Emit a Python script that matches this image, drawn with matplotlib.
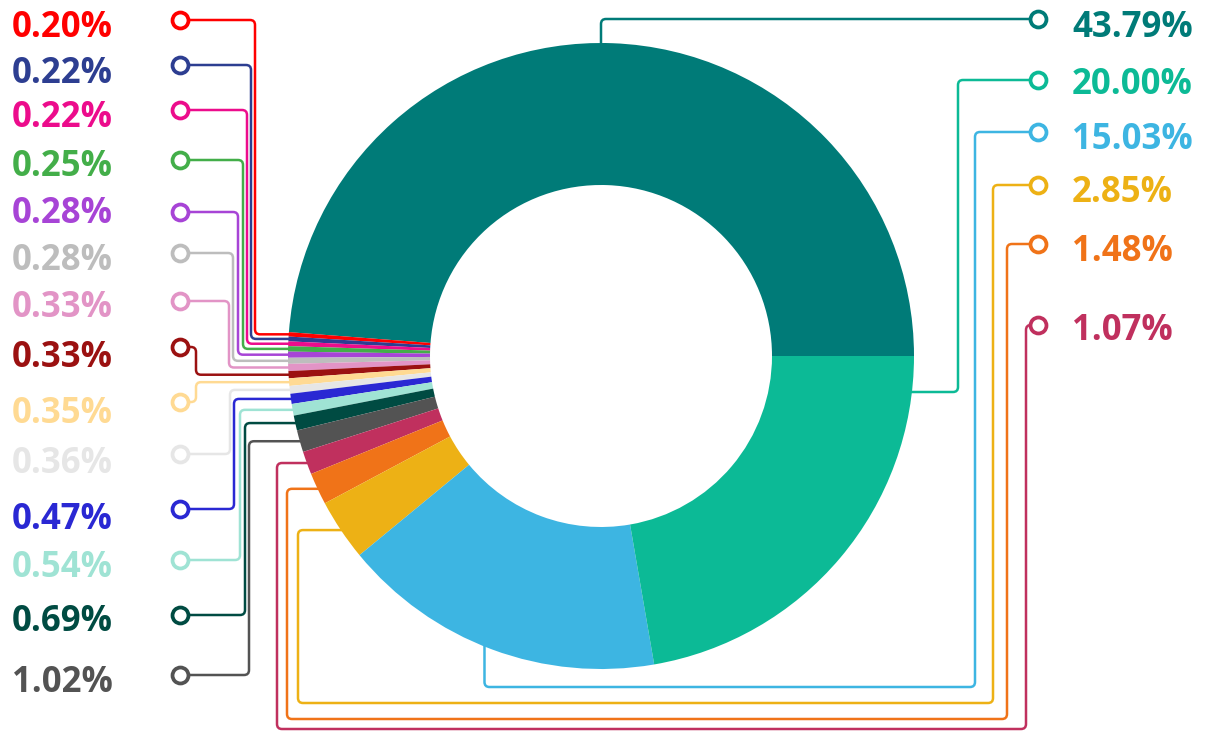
import numpy as np
import matplotlib
matplotlib.use("Agg")
import matplotlib.pyplot as plt
from matplotlib.path import Path
from matplotlib.patches import PathPatch

# ── Data (slice order, counter-clockwise from 3 o'clock) ─────────────────────
shares = [43.79, 0.20, 0.22, 0.22, 0.25, 0.28, 0.28, 0.33, 0.33, 0.35,
          0.36, 0.47, 0.54, 0.69, 1.02, 1.07, 1.48, 2.85, 15.03, 20.00]
colors = ["#007B78", "#FF0000", "#2D3E91", "#EC0C8C", "#43AE49", "#A744D6",
          "#BDBDBD", "#E294C6", "#9B1111", "#FFDA93", "#E6E6E6", "#2A28D3",
          "#9FE3D4", "#004B42", "#535353", "#C0305E", "#F07318", "#EDB115",
          "#3DB5E2", "#0CBA96"]

# ── Layout (pixel space, y pointing down) ────────────────────────────────────
W, H = 1205, 731
CX, CY, R, RING = 601, 356, 313, 142
LEFT_TEXT_X, LEFT_DOT_X = 12, 180
RIGHT_TEXT_X, RIGHT_DOT_X = 1072, 1038

left_idx = list(range(1, 15))
left_dot_y = [20, 65, 110, 160, 212, 253, 301, 347, 402, 454, 509, 560, 615, 675]
left_text_y = [25, 71, 115, 164, 211, 258, 305, 355, 411, 461, 517, 565, 619, 680]
left_elbow = [255, 251, 247, 243, 238, 233, 229, 196, 196, 230, 234, 240, 245, 249]

right_idx = [0, 19, 18, 17, 16, 15]
right_dot_y = [19, 80, 132, 185, 244, 325]
right_text_y = [25, 82, 137, 190, 249, 328]

fig = plt.figure(figsize=(W / 100, H / 100), dpi=100)
ax = fig.add_axes([0, 0, 1, 1])

wedges, _ = ax.pie(
    shares, colors=colors, radius=R, center=(CX, CY),
    startangle=0, counterclock=False, frame=True,
    wedgeprops=dict(width=RING, linewidth=0),
)
for w in wedges:
    w.set_zorder(2)

ax.set_xlim(0, W)
ax.set_ylim(H, 0)
ax.set_aspect("equal")
ax.axis("off")


def edge_point(theta):
    t = np.radians(theta)
    return CX + R * np.cos(t), CY + R * np.sin(t)


def mid_angle(w):
    return (w.theta1 + w.theta2) / 2


def rounded_path(pts, r=5):
    pts = [np.asarray(p, float) for p in pts]
    verts, codes = [pts[0]], [Path.MOVETO]
    for p0, p1, p2 in zip(pts[:-2], pts[1:-1], pts[2:]):
        l1, l2 = np.linalg.norm(p1 - p0), np.linalg.norm(p2 - p1)
        rr = min(r, l1 / 2, l2 / 2)
        a = p1 - (p1 - p0) / l1 * rr
        b = p1 + (p2 - p1) / l2 * rr
        verts += [a, p1, b]
        codes += [Path.LINETO, Path.CURVE3, Path.CURVE3]
    verts.append(pts[-1])
    codes.append(Path.LINETO)
    return Path(verts, codes)


def connector(pts, color, dot):
    ax.add_patch(PathPatch(rounded_path(pts), fill=False, ec=color, lw=1.8,
                           capstyle="butt", zorder=1))
    ax.plot(*dot, "o", ms=11.5, mew=2.7, mec=color, mfc="white", zorder=3)


label_font = dict(family=["Open Sans", "DejaVu Sans"], fontweight="bold",
                  fontsize=25)

# Left column: the thin slices
for i, dy, ty, ex in zip(left_idx, left_dot_y, left_text_y, left_elbow):
    xa, ya = edge_point(mid_angle(wedges[i]))
    pts = [(xa + 4, ya), (ex, ya), (ex, dy), (LEFT_DOT_X, dy)]
    connector(pts, colors[i], (LEFT_DOT_X, dy))
    ax.text(LEFT_TEXT_X, ty + 12, f"{shares[i]:.2f}%", color=colors[i],
            ha="left", va="baseline", **label_font)

# Right column: big slices, each with its own route
routes = {}
xa, ya = edge_point(-90)
routes[0] = [(xa, ya + 4), (xa, 19)]
xa, ya = edge_point(np.degrees(np.arcsin(36 / R)))
routes[19] = [(xa - 4, ya), (958, ya), (958, 80)]
xa, ya = edge_point(mid_angle(wedges[18]) + 1.5)
routes[18] = [(xa, ya - 4), (xa, 687), (975, 687), (975, 132)]
for i, ex, by, rx in [(17, 298, 703, 993), (16, 287, 719, 1007),
                      (15, 277, 729, 1026)]:
    xa, ya = edge_point(mid_angle(wedges[i]))
    routes[i] = [(xa + 4, ya), (ex, ya), (ex, by), (rx, by), (rx, ya)]

for i, dy, ty in zip(right_idx, right_dot_y, right_text_y):
    pts = routes[i]
    pts[-1] = (pts[-1][0], dy)
    pts = pts + [(RIGHT_DOT_X, dy)]
    connector(pts, colors[i], (RIGHT_DOT_X, dy))
    ax.text(RIGHT_TEXT_X, ty + 12, f"{shares[i]:.2f}%", color=colors[i],
            ha="left", va="baseline", **label_font)

fig.savefig("out.png", dpi=100, facecolor="white")
